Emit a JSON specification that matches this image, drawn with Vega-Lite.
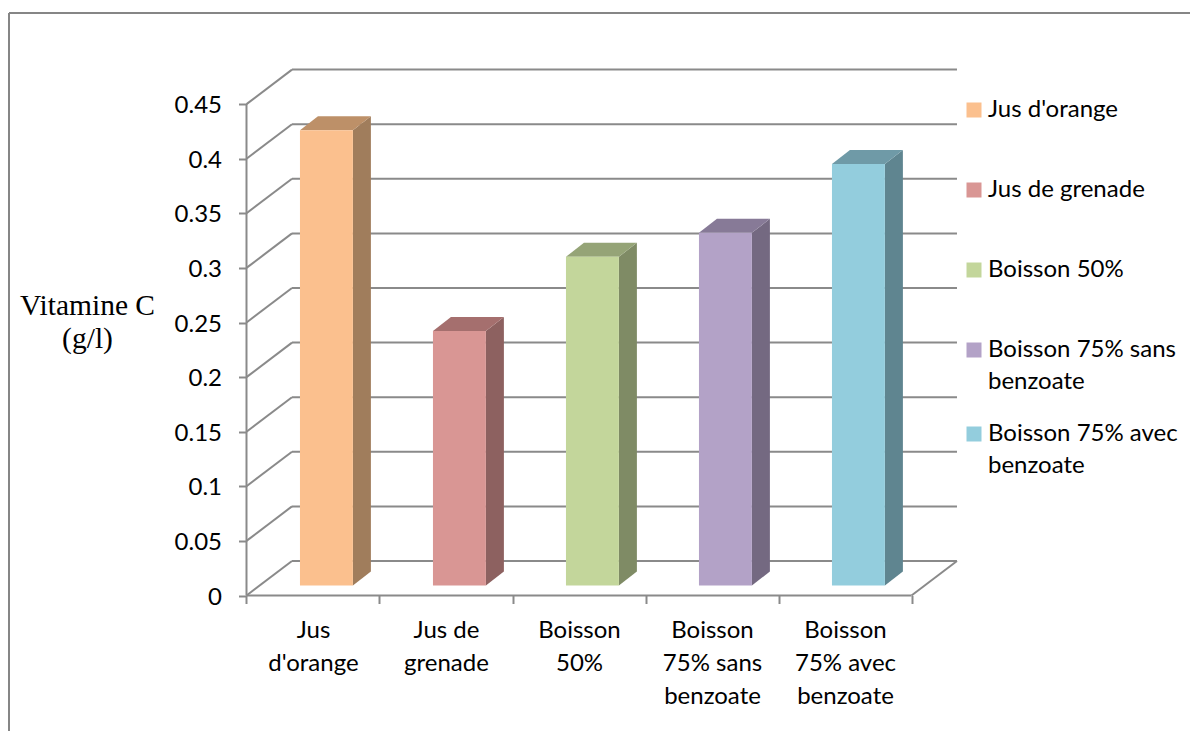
{
  "$schema": "https://vega.github.io/schema/vega-lite/v6.json",
  "width": 1190,
  "height": 731,
  "padding": 0,
  "autosize": {"type": "none"},
  "background": "#ffffff",
  "view": {"stroke": null},
  "params": [
    {"name": "wallX", "value": 0.342},
    {"name": "wallY", "value": 0.0316},
    {"name": "barX", "value": 0.1353},
    {"name": "barY", "value": 0.0128},
    {"name": "barBase", "value": 0.00916},
    {"name": "frameLeft", "value": -1.7857},
    {"name": "frameRight", "value": 7.09398},
    {"name": "frameTop", "value": 0.5334},
    {"name": "frameBottom", "value": -0.12408}
  ],
  "config": {"style": {"guide-label": {"lineHeight": 32}}},
  "data": {"name": "vitamine", "values": [
    {"idx": 0, "boisson": "Jus d'orange", "vitamine": 0.417},
    {"idx": 1, "boisson": "Jus de grenade", "vitamine": 0.233},
    {"idx": 2, "boisson": "Boisson 50%", "vitamine": 0.301},
    {"idx": 3, "boisson": "Boisson 75% sans benzoate", "vitamine": 0.323},
    {"idx": 4, "boisson": "Boisson 75% avec benzoate", "vitamine": 0.386}
  ]},
  "datasets": {
    "graduations": [
      {"tick": 0}, {"tick": 0.05}, {"tick": 0.1}, {"tick": 0.15}, {"tick": 0.2},
      {"tick": 0.25}, {"tick": 0.3}, {"tick": 0.35}, {"tick": 0.4}, {"tick": 0.45}
    ]
  },
  "layer": [
    {
      "data": {"name": "graduations"},
      "transform": [
        {"calculate": "datum.tick + wallY", "as": "back"},
        {"calculate": "0", "as": "front"},
        {"calculate": "wallX", "as": "depth"}
      ],
      "mark": {"type": "rule", "color": "#8a8a8a", "strokeWidth": 2},
      "encoding": {
        "x": {
          "field": "front",
          "type": "quantitative",
          "scale": {"domain": [-1.85338, 7.09398], "nice": false, "zero": false},
          "axis": {
            "orient": "bottom",
            "offset": -135.5,
            "title": null,
            "domain": false,
            "grid": false,
            "values": [0, 1, 2, 3, 4, 5],
            "tickSize": 8,
            "tickWidth": 2,
            "tickColor": "#8a8a8a",
            "labelOffset": 66.5,
            "labelFont": "Lato",
            "labelFontSize": 24,
            "labelColor": "#000000",
            "labelPadding": 15,
            "labelOverlap": false,
            "labelFlush": false,
            "labelBound": false,
            "labelLineHeight": 33,
            "labelBaseline": "top",
            "labelExpr": "[['Jus', \"d'orange\"], ['Jus de', 'grenade'], ['Boisson', '50%'], ['Boisson', '75% sans', 'benzoate'], ['Boisson', '75% avec', 'benzoate'], ''][datum.value]"
          }
        },
        "x2": {"field": "depth"},
        "y": {
          "field": "tick",
          "type": "quantitative",
          "scale": {"domain": [-0.12408, 0.54533], "nice": false, "zero": false},
          "axis": {
            "orient": "left",
            "offset": -246.5,
            "domain": false,
            "grid": false,
            "values": [0, 0.05, 0.1, 0.15, 0.2, 0.25, 0.3, 0.35, 0.4, 0.45],
            "format": ".2~f",
            "tickSize": 8,
            "tickWidth": 2,
            "tickColor": "#8a8a8a",
            "labelFont": "Lato",
            "labelFontSize": 24,
            "labelColor": "#000000",
            "labelPadding": 17,
            "labelOffset": 1.5,
            "labelOverlap": false,
            "labelFlush": false,
            "labelBound": false,
            "title": ["Vitamine C", "(g/l)"],
            "titleFont": "Liberation Serif",
            "titleFontSize": 29.5,
            "titleFontWeight": "normal",
            "titleColor": "#000000",
            "titleAngle": 0,
            "titleAlign": "center",
            "titleBaseline": "middle",
            "titleLineHeight": 33,
            "titleX": -159.5,
            "titleY": 305
          }
        },
        "y2": {"field": "back"}
      }
    },
    {
      "data": {"name": "graduations"},
      "transform": [
        {"calculate": "datum.tick + wallY", "as": "back"},
        {"calculate": "wallX", "as": "from"},
        {"calculate": "5 + wallX", "as": "to"}
      ],
      "mark": {"type": "rule", "color": "#8a8a8a", "strokeWidth": 2},
      "encoding": {
        "x": {"field": "from", "type": "quantitative"},
        "x2": {"field": "to"},
        "y": {"field": "back", "type": "quantitative"}
      }
    },
    {
      "data": {"name": "graduations"},
      "transform": [
        {"filter": "datum.tick === 0"},
        {"calculate": "0", "as": "x0"},
        {"calculate": "5", "as": "x5"},
        {"calculate": "0.45", "as": "yTop"},
        {"calculate": "5 + wallX", "as": "xBack"},
        {"calculate": "wallY", "as": "yBack"},
        {"calculate": "frameLeft", "as": "fl"},
        {"calculate": "frameRight", "as": "fr"},
        {"calculate": "frameTop", "as": "ft"},
        {"calculate": "frameBottom", "as": "fb"}
      ],
      "layer": [
        {
          "mark": {"type": "rule", "color": "#8a8a8a", "strokeWidth": 2},
          "encoding": {
            "x": {"field": "x0", "type": "quantitative"},
            "y": {"field": "tick", "type": "quantitative"},
            "y2": {"field": "yTop"}
          }
        },
        {
          "mark": {"type": "rule", "color": "#8a8a8a", "strokeWidth": 2},
          "encoding": {
            "x": {"field": "x0", "type": "quantitative"},
            "x2": {"field": "x5"},
            "y": {"field": "tick", "type": "quantitative"}
          }
        },
        {
          "mark": {"type": "rule", "color": "#8a8a8a", "strokeWidth": 2},
          "encoding": {
            "x": {"field": "x5", "type": "quantitative"},
            "x2": {"field": "xBack"},
            "y": {"field": "tick", "type": "quantitative"},
            "y2": {"field": "yBack"}
          }
        },
        {
          "mark": {"type": "rule", "color": "#868686", "strokeWidth": 2},
          "encoding": {
            "x": {"field": "fl", "type": "quantitative"},
            "y": {"field": "ft", "type": "quantitative"},
            "y2": {"field": "fb"}
          }
        },
        {
          "mark": {"type": "rule", "color": "#868686", "strokeWidth": 2},
          "encoding": {
            "x": {"field": "fl", "type": "quantitative"},
            "x2": {"field": "fr"},
            "y": {"field": "ft", "type": "quantitative"}
          }
        }
      ]
    },
    {
      "transform": [
        {"calculate": "datum.idx + 0.8", "as": "right"},
        {"calculate": "barBase + datum.vitamine", "as": "top"},
        {"calculate": "[datum.right, datum.right + barX]", "as": "xs"},
        {"calculate": "[barBase, barBase + barY]", "as": "lo"},
        {"calculate": "[datum.top, datum.top + barY]", "as": "hi"},
        {"flatten": ["xs", "lo", "hi"]}
      ],
      "mark": {"type": "area", "interpolate": "linear"},
      "encoding": {
        "x": {"field": "xs", "type": "quantitative"},
        "y": {"field": "lo", "type": "quantitative"},
        "y2": {"field": "hi"},
        "detail": {"field": "boisson"},
        "color": {
          "field": "boisson",
          "type": "nominal",
          "legend": null,
          "scale": {
            "domain": ["Jus d'orange", "Jus de grenade", "Boisson 50%", "Boisson 75% sans benzoate", "Boisson 75% avec benzoate"],
            "range": ["#a07d5c", "#8d6160", "#7f8b65", "#746981", "#5f8590"]
          }
        }
      }
    },
    {
      "transform": [
        {"calculate": "datum.idx + 0.402", "as": "left"},
        {"calculate": "datum.idx + 0.8", "as": "right"},
        {"calculate": "barBase + datum.vitamine", "as": "top"},
        {"calculate": "[datum.left, datum.left + barX, datum.right, datum.right + barX]", "as": "xs"},
        {"calculate": "[datum.top, datum.top, datum.top, datum.top + barY]", "as": "lo"},
        {"calculate": "[datum.top, datum.top + barY, datum.top + barY, datum.top + barY]", "as": "hi"},
        {"flatten": ["xs", "lo", "hi"]}
      ],
      "mark": {"type": "area", "interpolate": "linear"},
      "encoding": {
        "x": {"field": "xs", "type": "quantitative"},
        "y": {"field": "lo", "type": "quantitative"},
        "y2": {"field": "hi"},
        "detail": {"field": "boisson"},
        "color": {
          "field": "boisson",
          "type": "nominal",
          "legend": null,
          "scale": {
            "domain": ["Jus d'orange", "Jus de grenade", "Boisson 50%", "Boisson 75% sans benzoate", "Boisson 75% avec benzoate"],
            "range": ["#bd9068", "#a56f6e", "#95a477", "#877a97", "#6f9aa7"]
          }
        }
      }
    },
    {
      "transform": [
        {"calculate": "datum.idx + 0.402", "as": "left"},
        {"calculate": "datum.idx + 0.8", "as": "right"},
        {"calculate": "barBase", "as": "base"},
        {"calculate": "barBase + datum.vitamine", "as": "top"}
      ],
      "mark": {"type": "rect"},
      "encoding": {
        "x": {"field": "left", "type": "quantitative"},
        "x2": {"field": "right"},
        "y": {"field": "base", "type": "quantitative"},
        "y2": {"field": "top"},
        "color": {
          "field": "boisson",
          "type": "nominal",
          "scale": {
            "domain": ["Jus d'orange", "Jus de grenade", "Boisson 50%", "Boisson 75% sans benzoate", "Boisson 75% avec benzoate"],
            "range": ["#fbc08e", "#d99694", "#c3d69b", "#b3a2c7", "#93cddd"]
          },
          "legend": {
            "title": null,
            "orient": "none",
            "legendX": 962,
            "legendY": 70,
            "padding": 0,
            "symbolType": "square",
            "symbolSize": 225,
            "symbolStrokeWidth": 0,
            "labelFont": "Lato",
            "labelFontSize": 24,
            "labelColor": "#000000",
            "labelOffset": 2,
            "labelLimit": 400,
            "clipHeight": 80,
            "rowPadding": 0,
            "labelExpr": "datum.label == 'Boisson 75% sans benzoate' ? ['Boisson 75% sans', 'benzoate'] : datum.label == 'Boisson 75% avec benzoate' ? ['Boisson 75% avec', 'benzoate'] : datum.label"
          }
        }
      }
    }
  ],
  "resolve": {"scale": {"color": "independent"}}
}
